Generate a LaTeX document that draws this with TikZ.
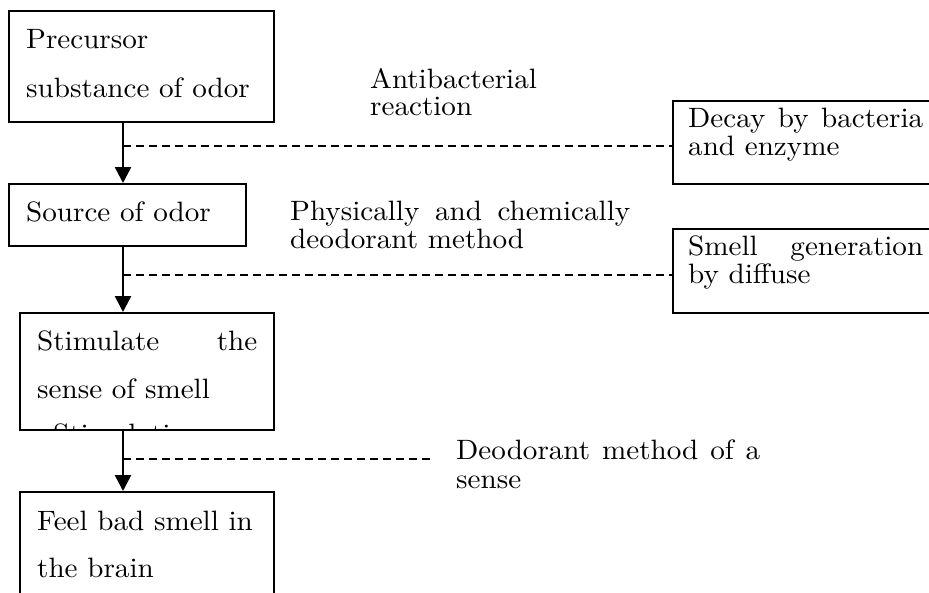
\documentclass[tikz,border=0pt]{standalone}
\usepackage{fontspec}
\usepackage{graphicx}
\usetikzlibrary{arrows.meta}
\newcommand{\wl}[1]{\scalebox{2.912}[2.8]{#1}}
\newcommand{\jl}[2]{\scalebox{2.912}[2.8]{\makebox[#1][s]{#2}}}
\begin{document}
\begin{tikzpicture}[x=1pt,y=-1pt,
  font=\fontsize{10pt}{12pt}\selectfont,
  box/.style={draw, line width=2pt, rectangle, inner sep=0pt, anchor=north west},
  txt/.style={inner sep=0pt, anchor=base west},
  arr/.style={line width=2.6pt, -{Triangle[width=16pt,length=16pt]}},
  dsh/.style={line width=1.4pt, dash pattern=on 8pt off 5pt}]
\useasboundingbox (0,0) rectangle (929,592);
\clip (0,0) rectangle (929,592);
% boxes
\node[box, minimum width=265pt, minimum height=111pt] (b1) at (8,10) {};
\node[box, minimum width=237pt, minimum height=62pt] (b2) at (8,183) {};
\node[box, minimum width=254pt, minimum height=117pt] (b3) at (19,312) {};
\node[box, minimum width=254pt, minimum height=160pt] (b4) at (19,491) {};
\node[box, minimum width=290pt, minimum height=83pt] (r1) at (672,100) {};
\node[box, minimum width=290pt, minimum height=84pt] (r2) at (672,228) {};
% box texts
\node[txt] (t1a) at (26,48) {\wl{Precursor}};
\node[txt] (t1b) at (26,97) {\wl{substance of odor}};
\node[txt] (t2) at (26,221) {\wl{Source of odor}};
\node[txt] (t3a) at (37,350) {\jl{75.55pt}{Stimulate the}};
\node[txt] (t3b) at (37,398) {\wl{sense of smell}};
\begin{scope}
\clip (20,313) rectangle (272,428);
\node[txt] (t3c) at (53,443) {\wl{Stimulation}};
\end{scope}
\node[txt] (t4a) at (37,530) {\wl{Feel bad smell in}};
\node[txt] (t4b) at (37,577) {\wl{the brain}};
\node[txt] (r1a) at (688,127) {\jl{80.7pt}{Decay by bacteria}};
\node[txt] (r1b) at (688,155) {\wl{and enzyme}};
\node[txt] (r2a) at (688,255) {\jl{80.7pt}{Smell generation}};
\node[txt] (r2b) at (688,283) {\wl{by diffuse}};
% labels
\node[txt] (l1a) at (370,88) {\wl{Antibacterial}};
\node[txt] (l1b) at (370,115) {\wl{reaction}};
\node[txt] (l2a) at (290,220) {\jl{116.76pt}{Physically and chemically}};
\node[txt] (l2b) at (290,248) {\wl{deodorant method}};
\node[txt] (l3a) at (456,459) {\jl{104.4pt}{Deodorant method of a}};
\node[txt] (l3b) at (456,488) {\wl{sense}};
% arrows
\coordinate (ax) at (123,0);
\draw[arr] (b1.south -| ax) -- (b2.north -| ax);
\draw[arr] (b2.south -| ax) -- (b3.north -| ax);
\draw[arr] (b3.south -| ax) -- (b4.north -| ax);
% dashed lines
\coordinate (d1) at (123,146);
\coordinate (d2) at (123,275);
\coordinate (d3) at (123,459);
\coordinate (d3e) at (433,459);
\draw[dsh] (d1) -- (d1 -| r1.west);
\draw[dsh] (d2) -- (d2 -| r2.west);
\draw[dsh] (d3) -- (d3e);
\end{tikzpicture}
\end{document}
